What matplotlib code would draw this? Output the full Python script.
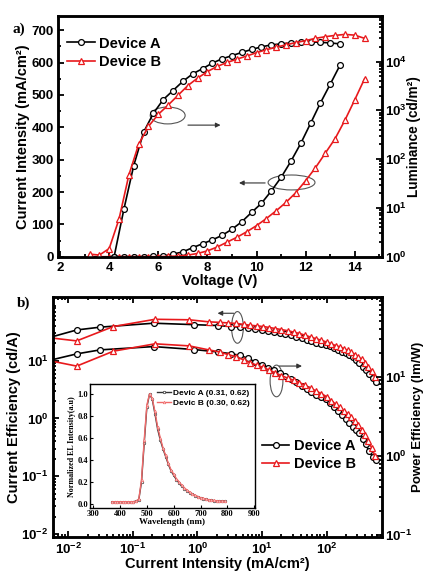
import matplotlib
matplotlib.use('Agg')
import matplotlib.pyplot as plt
from matplotlib.patches import Ellipse
from matplotlib.ticker import LogLocator, MultipleLocator, NullFormatter, FixedLocator

plt.rcParams['font.family'] = 'Liberation Sans'
plt.rcParams['font.weight'] = 'bold'
plt.rcParams['axes.labelweight'] = 'bold'
plt.rcParams['mathtext.fontset'] = 'custom'
plt.rcParams['mathtext.rm'] = 'Liberation Sans:bold'
plt.rcParams['mathtext.bf'] = 'Liberation Sans:bold'
plt.rcParams['mathtext.it'] = 'Liberation Sans:bold:italic'
plt.rcParams['mathtext.default'] = 'bf'

# ---- panel a: J-V-L ----
volt_a = [4.2, 4.6, 5.0, 5.4, 5.8, 6.2, 6.6, 7.0, 7.4, 7.8, 8.2, 8.6, 9.0, 9.4,
          9.8, 10.2, 10.6, 11.0, 11.4, 11.8, 12.2, 12.6, 13.0, 13.4]
cur_a = [0, 0, 0, 0, 1, 2, 8, 15, 28, 40, 52, 66, 85, 108, 137, 165, 203, 245,
         295, 350, 412, 475, 533, 592]
lum_a = [1.0, 9.5, 74, 356, 870, 1660, 2550, 3930, 5600, 7150, 9300, 11400,
         13200, 15400, 17700, 20000, 22000, 23000, 24100, 24800, 25200, 24800,
         24100, 23000]

volt_b = [3.2, 3.6, 4.0, 4.4, 4.8, 5.2, 5.6, 6.0, 6.4, 6.8, 7.2, 7.6, 8.0, 8.4,
          8.8, 9.2, 9.6, 10.0, 10.4, 10.8, 11.2, 11.6, 12.0, 12.4, 12.8, 13.2,
          13.6, 14.0, 14.4]
cur_b = [0, 0, 0, 0, 0, 0, 0, 0, 1, 2, 5, 10, 18, 30, 45, 60, 77, 96, 118, 142,
         168, 198, 235, 275, 320, 365, 422, 485, 550]
lum_b = [1.13, 1.08, 1.47, 5.9, 47, 202, 470, 830, 1280, 2030, 3210, 4580, 6230,
         7960, 9570, 11200, 13000, 15200, 17500, 19700, 22000, 24500, 26900,
         29900, 32300, 34400, 36000, 34800, 29900]

# ---- panel b: efficiencies vs current density ----
j_a = [0.005, 0.0135, 0.031, 0.21, 0.9, 2.1, 3.3, 4.6, 6.0, 7.8, 10, 12.5, 15.5,
       19, 23, 28, 34, 41, 49, 58, 69, 82, 97, 113, 131, 151, 173, 197, 224,
       254, 287, 323, 362, 405, 452, 520, 590]
ce_a = [25, 34, 38, 44.5, 42, 40.5, 39, 38, 36.5, 35, 34, 32.8, 31.5, 30.2, 29,
        27.5, 26, 24.5, 23, 21.7, 20.5, 19.5, 18.7, 17.6, 16.5, 15.3, 14.3, 13.4,
        12.4, 11.4, 10.2, 9.0, 7.9, 6.9, 6.0, 5.0, 4.3]
pe_a = [16, 19.4, 21.8, 24, 22, 20.5, 19.5, 18.6, 17, 15.5, 14.2, 13, 12, 11,
        10.2, 9.3, 8.5, 7.7, 7.0, 6.4, 5.9, 5.5, 5.2, 4.7, 4.2, 3.7, 3.3, 2.95,
        2.6, 2.35, 2.1, 1.95, 1.65, 1.4, 1.15, 0.98, 0.88]

j_b = [0.005, 0.0135, 0.05, 0.22, 0.74, 1.5, 2.2, 3.0, 4.0, 5.2, 6.6, 8.3, 10.4,
       13, 16, 20, 25, 31, 38, 47, 57, 69, 83, 100, 118, 138, 160, 185, 212,
       242, 275, 310, 350, 395, 445, 500, 560]
ce_b = [25, 22, 39, 52, 51, 47, 46, 45, 44, 42.5, 41, 40, 39, 37.5, 36, 34.5, 33,
        31.2, 29.5, 27.5, 25.5, 24, 22.5, 21, 19.5, 18.3, 17.3, 16.2, 15.1, 14,
        12.7, 11.6, 10.5, 9.1, 7.8, 6.5, 5.2]
pe_b = [16, 13.6, 21, 26, 24.5, 21.8, 20.5, 19, 17.8, 16.3, 15, 14, 13.1, 12.1,
        11.2, 10.3, 9.6, 9.0, 8.4, 7.8, 7.1, 6.6, 6.1, 5.6, 5.0, 4.5, 4.1, 3.7,
        3.4, 3.1, 2.75, 2.45, 2.15, 1.85, 1.55, 1.25, 1.0]

# ---- inset: EL spectra ----
wl = [370, 380, 390, 400, 410, 420, 430, 440, 450, 460, 470, 480, 490, 500, 510,
      520, 530, 540, 550, 560, 570, 580, 590, 600, 610, 620, 630, 640, 650, 660,
      670, 680, 690, 700, 710, 720, 730, 740, 750, 760, 770, 780, 790]
el_a = [0.02, 0.02, 0.02, 0.02, 0.02, 0.02, 0.02, 0.02, 0.02, 0.025, 0.04, 0.2,
        0.55, 0.88, 1.0, 0.95, 0.82, 0.68, 0.58, 0.5, 0.43, 0.36, 0.3, 0.26,
        0.22, 0.19, 0.16, 0.14, 0.12, 0.1, 0.09, 0.075, 0.065, 0.055, 0.048,
        0.042, 0.037, 0.033, 0.03, 0.028, 0.026, 0.025, 0.024]
el_b = [0.02, 0.02, 0.02, 0.02, 0.02, 0.02, 0.02, 0.02, 0.02, 0.025, 0.045, 0.22,
        0.58, 0.9, 1.0, 0.96, 0.84, 0.7, 0.6, 0.51, 0.44, 0.37, 0.31, 0.27,
        0.23, 0.2, 0.17, 0.145, 0.125, 0.105, 0.09, 0.078, 0.067, 0.057, 0.05,
        0.044, 0.039, 0.034, 0.031, 0.029, 0.027, 0.026, 0.025]

RED = '#e8191c'
mk = dict(ms=4.2, mfc='white', mew=0.9)

fig = plt.figure(figsize=(4.23, 5.73), dpi=100)


def style(ax):
    for s in ax.spines.values():
        s.set_linewidth(1.8)
    ax.tick_params(which='both', direction='in', width=1.3, labelsize=9.5)
    ax.tick_params(which='major', length=4.5)
    ax.tick_params(which='minor', length=2.5)


# ================= panel a =================
axa = fig.add_axes([0.138, 0.552, 0.7645, 0.4206])
axa2 = axa.twinx()
axa.plot(volt_a, cur_a, '-o', color='black', lw=1.2, **mk)
axa.plot(volt_b, cur_b, '-^', color=RED, lw=1.2, **mk)
axa2.plot(volt_a, lum_a, '-o', color='black', lw=1.2, **mk)
axa2.plot(volt_b, lum_b, '-^', color=RED, lw=1.2, **mk)

axa.set_xlim(1.93, 15.1)
axa.set_ylim(0, 745)
axa2.set_yscale('log')
axa2.set_ylim(1, 10 ** 4.94)
axa.xaxis.set_major_locator(MultipleLocator(2))
axa.xaxis.set_minor_locator(MultipleLocator(1))
axa.yaxis.set_major_locator(MultipleLocator(100))
axa.yaxis.set_minor_locator(MultipleLocator(50))
axa2.yaxis.set_major_locator(LogLocator(base=10, numticks=10))
axa2.yaxis.set_minor_locator(LogLocator(base=10, subs=range(2, 10), numticks=10))
axa2.yaxis.set_minor_formatter(NullFormatter())
style(axa)
style(axa2)
axa2.tick_params(axis='y', pad=2.5)
axa.set_xlabel('Voltage (V)', fontsize=10.5, labelpad=0)
axa.set_ylabel('Current Intensity (mA/cm²)', fontsize=10.5, labelpad=1)
axa2.set_ylabel('Luminance (cd/m²)', fontsize=9.8, labelpad=0)

axa.legend(['Device A', 'Device B'], loc='upper left', bbox_to_anchor=(0.0, 0.95),
           frameon=False, fontsize=10.5, handlelength=1.9, handletextpad=0.3,
           labelspacing=0.3, borderaxespad=0.2)

# annotation ellipses / arrows (axes fraction)
axa.add_patch(Ellipse((0.338, 0.586), 0.108, 0.07, transform=axa.transAxes,
                      fill=False, ec='#555555', lw=0.8))
axa.annotate('', xy=(0.51, 0.546), xytext=(0.392, 0.546), xycoords='axes fraction',
             arrowprops=dict(arrowstyle='-|>', color='#333333', lw=0.8,
                             mutation_scale=7))
axa.add_patch(Ellipse((0.721, 0.308), 0.145, 0.062, transform=axa.transAxes,
                      fill=False, ec='#555555', lw=0.8))
axa.annotate('', xy=(0.55, 0.306), xytext=(0.648, 0.306), xycoords='axes fraction',
             arrowprops=dict(arrowstyle='-|>', color='#333333', lw=0.8,
                             mutation_scale=7))
fig.text(0.03, 0.949, 'a)', fontsize=11, fontweight='bold',
         family='Liberation Serif', va='center')

# ================= panel b =================
axb = fig.add_axes([0.126, 0.0634, 0.776, 0.4188])
axb2 = axb.twinx()
axb.plot(j_a, ce_a, '-o', color='black', lw=1.2, **mk)
axb.plot(j_b, ce_b, '-^', color=RED, lw=1.2, **mk)
axb2.plot(j_a, pe_a, '-o', color='black', lw=1.2, **mk)
axb2.plot(j_b, pe_b, '-^', color=RED, lw=1.2, **mk)

axb.set_xscale('log')
axb.set_yscale('log')
axb2.set_yscale('log')
axb.set_xlim(0.00586, 709)
axb.set_ylim(10 ** -2.045, 10 ** 2.107)
axb2.set_ylim(10 ** -1.02, 10 ** 2.01)
axb.yaxis.set_major_locator(FixedLocator([0.01, 0.1, 1, 10]))
axb2.yaxis.set_major_locator(FixedLocator([0.1, 1, 10]))
for ax in (axb, axb2):
    ax.yaxis.set_minor_locator(LogLocator(base=10, subs=range(2, 10), numticks=10))
    ax.yaxis.set_minor_formatter(NullFormatter())
axb.xaxis.set_major_locator(LogLocator(base=10, numticks=10))
axb.xaxis.set_minor_locator(LogLocator(base=10, subs=range(2, 10), numticks=10))
axb.xaxis.set_minor_formatter(NullFormatter())
style(axb)
style(axb2)
axb2.tick_params(axis='y', pad=2.5)
axb.tick_params(which='both', top=True)
axb.set_xlabel('Current Intensity (mA/cm²)', fontsize=10.5, labelpad=0)
axb.set_ylabel('Current Efficiency (cd/A)', fontsize=10.5, labelpad=0)
axb2.set_ylabel('Power Efficiency (lm/W)', fontsize=9.5, labelpad=0)

axb.legend(['Device A', 'Device B'], loc='center left', bbox_to_anchor=(0.595, 0.34),
           frameon=False, fontsize=10.5, handlelength=1.9, handletextpad=0.3,
           labelspacing=0.3)

axb.add_patch(Ellipse((0.561, 0.872), 0.036, 0.132, transform=axb.transAxes,
                      fill=False, ec='#555555', lw=0.8))
axb.annotate('', xy=(0.492, 0.931), xytext=(0.558, 0.931), xycoords='axes fraction',
             arrowprops=dict(arrowstyle='-|>', color='#333333', lw=0.8,
                             mutation_scale=7))
axb.add_patch(Ellipse((0.68, 0.649), 0.039, 0.132, transform=axb.transAxes,
                      fill=False, ec='#555555', lw=0.8))
axb.annotate('', xy=(0.766, 0.711), xytext=(0.68, 0.711), xycoords='axes fraction',
             arrowprops=dict(arrowstyle='-|>', color='#333333', lw=0.8,
                             mutation_scale=7))
fig.text(0.04, 0.471, 'b)', fontsize=11, fontweight='bold',
         family='Liberation Serif', va='center')

# ================= inset =================
axi = fig.add_axes([0.2128, 0.1129, 0.39, 0.217])
axi.plot(wl, el_a, '-o', color='#333333', lw=1.0, ms=1.8, mfc='white', mew=0.5,
         label='Devic A (0.31, 0.62)')
axi.plot(wl, el_b, '-^', color='#f06a6a', lw=1.0, ms=1.8, mfc='white', mew=0.5,
         label='Devic B (0.30, 0.62)')
axi.set_xlim(288, 903)
axi.set_ylim(-0.04, 1.09)
axi.xaxis.set_major_locator(MultipleLocator(100))
axi.yaxis.set_major_locator(MultipleLocator(0.2))
axi.yaxis.set_major_formatter(plt.FuncFormatter(lambda v, p: '%.1f' % v))
for s in axi.spines.values():
    s.set_linewidth(1.0)
axi.tick_params(direction='in', length=2.5, width=0.8, labelsize=6, pad=1.5)
for t in axi.get_xticklabels() + axi.get_yticklabels():
    t.set_fontfamily('Liberation Serif')
axi.set_xlabel('Wavelength (nm)', fontsize=6.5, family='Liberation Serif', labelpad=0)
axi.set_ylabel('Normalized EL Intensity(a.u)', fontsize=5.8,
               family='Liberation Serif', labelpad=1)
axi.legend(loc='upper right', frameon=False, fontsize=6, handlelength=1.6,
           handletextpad=0.3, borderaxespad=0.2, labelspacing=0.3)

fig.savefig('out.png', dpi=100)
